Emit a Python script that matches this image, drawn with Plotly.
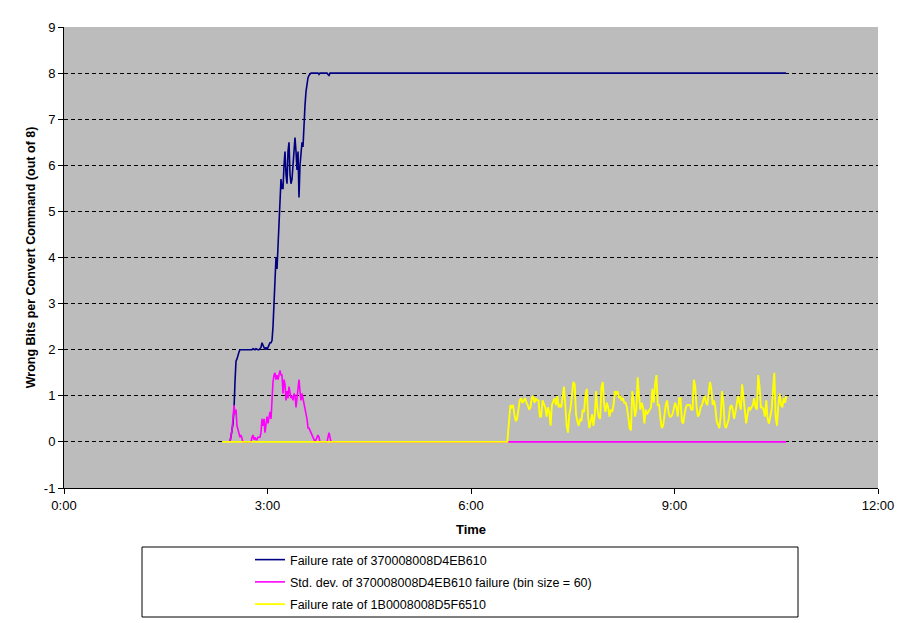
import plotly.graph_objects as go

# ---------------- data ----------------
# x axis in hours (0:00 .. 12:00)
tick_vals = [0, 3, 6, 9, 12]
tick_text = ["0:00", "3:00", "6:00", "9:00", "12:00"]
y_tick_vals = [-1, 0, 1, 2, 3, 4, 5, 6, 7, 8, 9]
y_tick_text = ["-1", "0", "1", "2", "3", "4", "5", "6", "7", "8", "9"]

# Device 370008008D4EB610 : samples every ~53 s starting at 2.447 h
dev1_start_h = 2.447
dev1_sample_h = 0.014745
dev1_end_h = 10.645

fail_rate_370 = [
    0.0, 0.1, 0.25, 0.4, 0.7, 1.3, 1.75, 1.8, 1.9, 1.95,
    2.0, 2.0, 2.0, 2.0, 2.0, 2.0, 2.0, 2.0, 2.0, 2.0,
    2.0, 2.0, 2.0, 2.02, 2.0, 2.0, 2.02, 2.0, 2.0, 2.0,
    2.02, 2.05, 2.15, 2.1, 2.05, 2.0, 2.05, 2.0, 2.05, 2.1,
    2.15, 2.15, 2.2, 2.5, 3.0, 3.5, 4.0, 3.75, 4.3, 4.5,
    5.3, 5.7, 5.5,
    5.5, 6.0, 6.3, 5.8, 5.6, 6.3, 6.5, 5.8, 5.6, 5.7,
    6.1, 6.4, 6.6, 6.3, 5.9, 6.3, 5.3, 6.0, 6.4, 6.5,
    6.4, 7.0, 7.3, 7.6, 7.8, 7.9, 7.95, 7.98, 8.0, 8.0,
    8.0, 8.0, 8.0, 8.0, 8.0, 8.0, 7.97, 8.0, 8.0, 8.0,
    8.0, 8.0, 8.0, 8.0, 8.0, 7.97, 7.95, 8.0, 8.0,
]

std_dev_370 = [
    0.0, 0.1, 0.25, 0.5, 0.8, 0.6, 0.7, 0.35, 0.25, 0.15,
    0.1, 0.15, 0.05, 0.0, 0.0, 0.0, 0.0, 0.0, 0.0, 0.0,
    0.0, 0.0, 0.1, 0.15, 0.05, 0.1, 0.05, 0.05, 0.1, 0.1,
    0.1, 0.2, 0.5, 0.35, 0.5, 0.2, 0.35, 0.55, 0.4, 0.5,
    0.65, 0.5, 1.0, 1.3, 1.45, 1.5, 1.35, 1.45, 1.35, 1.5,
    1.55, 1.45, 1.45,
    1.05, 1.35, 1.25, 0.9, 1.1, 0.95, 1.2, 1.0, 0.95, 1.0,
    0.9, 1.05, 1.0, 0.75, 0.95, 1.2, 1.35, 1.1, 0.9, 1.05,
    0.95, 0.8, 0.7, 0.65, 0.5, 0.3, 0.3, 0.25, 0.2, 0.15,
    0.1, 0.05, 0.0, 0.05, 0.1, 0.15, 0.1, 0.0, 0.0, 0.0,
    0.0, 0.0, 0.0, 0.0, 0.0, 0.1, 0.2, 0.1, 0.0,
]

# Device 1B0008008D5F6510 : idle at 0 from 2.33 h, then noisy from 6.541 h
dev2_idle_start_h = 2.33
dev2_noise_start_h = 6.541
dev2_noise_end_h = 10.649

fail_rate_1B0 = [
    0.1, 0.5, 0.8, 0.75, 0.8, 0.6, 0.45, 0.5, 0.75, 0.9,
    0.95, 0.85, 0.9, 0.95, 0.85, 0.8, 0.7, 0.75, 0.95, 1.0,
    0.85, 0.95, 0.9, 0.9, 0.55, 0.55, 0.9, 0.8, 0.75, 0.55,
    0.75, 0.65, 0.35, 0.8, 0.9, 0.95, 0.8, 1.0, 0.75, 0.8,
    0.75, 1.0, 1.2, 0.8, 0.35, 0.2, 0.6, 0.75, 1.0, 1.3,
    1.25,
    0.6, 0.45, 0.35, 0.5, 0.45, 0.7, 0.65, 1.0, 1.15, 0.55,
    0.3, 0.45, 0.6, 0.35, 0.6, 1.1, 0.7, 0.55, 0.5, 1.2,
    1.3, 0.8, 0.65, 0.85, 0.75, 0.55, 0.7, 0.65, 0.8, 1.1,
    1.05, 1.1, 0.95, 1.0, 0.9, 0.95, 0.85, 0.85, 0.75, 0.55,
    0.3, 0.25, 1.1, 0.9, 0.55, 0.7, 1.4, 1.0, 0.7, 0.85,
    0.75, 0.4,
    0.7, 0.6, 0.65, 0.7, 0.75, 1.15, 0.85, 1.25, 1.45, 0.8,
    0.8, 0.5, 0.3, 0.35, 0.6, 0.8, 0.9, 0.65, 0.55, 0.55,
    0.6, 0.75, 0.85, 0.75, 0.55, 0.95, 0.95, 0.45, 0.4, 0.6,
    0.75, 0.8, 0.8, 0.8, 0.7, 0.7, 1.35, 1.2, 0.75, 0.55,
    0.6, 0.75, 0.8, 0.9, 1.0, 0.85, 0.8, 1.05, 1.3, 1.15,
    0.8, 0.9,
    0.75, 0.45, 0.35, 0.3, 0.55, 1.1, 0.85, 0.35, 0.3, 0.4,
    0.5, 0.75, 0.8, 0.7, 0.5, 0.65, 0.85, 1.0, 0.85, 0.7,
    1.25, 0.95, 0.8, 0.4, 0.6, 0.75, 0.7, 0.75, 0.8, 0.95,
    0.75, 0.7, 1.45, 1.2, 0.75, 0.75, 0.7, 0.55, 0.9, 0.5,
    0.4, 0.55, 0.7, 1.1, 1.5, 0.55, 0.35, 0.8, 1.05, 0.8,
    0.75, 0.95, 0.85, 1.0,
]

series_names = [
    "Failure rate of 370008008D4EB610",
    "Std. dev. of 370008008D4EB610 failure (bin size = 60)",
    "Failure rate of 1B0008008D5F6510",
]
series_colors = ["#000080", "#FF00FF", "#FFFF00"]
series_widths = [1.6, 1.6, 1.9]

# ---------------- build traces ----------------
t1 = [dev1_start_h + i * dev1_sample_h for i in range(len(fail_rate_370))]
blue_x = t1 + [dev1_end_h]
blue_y = fail_rate_370 + [8.0]
pink_x = t1 + [dev1_end_h]
pink_y = std_dev_370 + [0.0]

n2 = len(fail_rate_1B0)
step2 = (dev2_noise_end_h - dev2_noise_start_h) / (n2 - 1)
t2 = [dev2_noise_start_h + i * step2 for i in range(n2)]
yel_x = [dev2_idle_start_h, dev2_noise_start_h - 0.005] + t2
yel_y = [0.0, 0.0] + fail_rate_1B0

FONT = "Arial, 'Liberation Sans', sans-serif"

# the page body has an 8px default margin, so the figure is 8px smaller
FIG_W, FIG_H = 903, 615

fig = go.Figure()
for i, (xs, ys) in enumerate([(blue_x, blue_y), (pink_x, pink_y), (yel_x, yel_y)]):
    fig.add_trace(go.Scatter(
        x=xs, y=ys, mode="lines", name=series_names[i],
        legendgroup=f"g{i}",
        line=dict(color=series_colors[i], width=series_widths[i]),
        hoverinfo="skip",
    ))

fig.update_layout(
    width=FIG_W, height=FIG_H,
    margin=dict(l=56, r=33, t=19, b=135, autoexpand=False),
    paper_bgcolor="white",
    plot_bgcolor="#BCBCBC",
    font=dict(family=FONT, size=13, color="black"),
    showlegend=True,
    legend=dict(
        x=0.2285, xanchor="left",
        yref="container", y=1 - 537 / FIG_H, yanchor="top",
        bgcolor="rgba(0,0,0,0)", borderwidth=0,
        font=dict(family=FONT, size=12.5, color="black"),
        tracegroupgap=3,
    ),
    xaxis=dict(
        range=[0, 12], tickvals=tick_vals, ticktext=tick_text,
        showgrid=False, zeroline=False, automargin=False,
        showline=True, linecolor="black", linewidth=1,
        ticks="outside", ticklen=5, tickcolor="black", tickwidth=1,
        tickfont=dict(size=13),
        title=dict(text="<b>Time</b>", font=dict(size=13), standoff=13),
    ),
    yaxis=dict(
        range=[-1, 9], tickvals=y_tick_vals, ticktext=y_tick_text,
        showgrid=True, gridcolor="black", gridwidth=1, griddash="4px,3px",
        zeroline=False, automargin=False,
        showline=True, linecolor="black", linewidth=1,
        ticks="outside", ticklen=5, tickcolor="black", tickwidth=1,
        tickfont=dict(size=13),
        title=dict(text="<b>Wrong Bits per Convert Command (out of 8)</b>",
                   font=dict(size=12.5), standoff=5),
    ),
    shapes=[dict(
        type="rect", xref="paper", yref="paper",
        x0=(142 - 64) / 814, x1=(798 - 64) / 814,
        y0=(488 - 617) / 461, y1=(488 - 547) / 461,
        line=dict(color="black", width=1), fillcolor="rgba(0,0,0,0)",
        layer="above",
    )],
)

fig.write_html("out.html")
